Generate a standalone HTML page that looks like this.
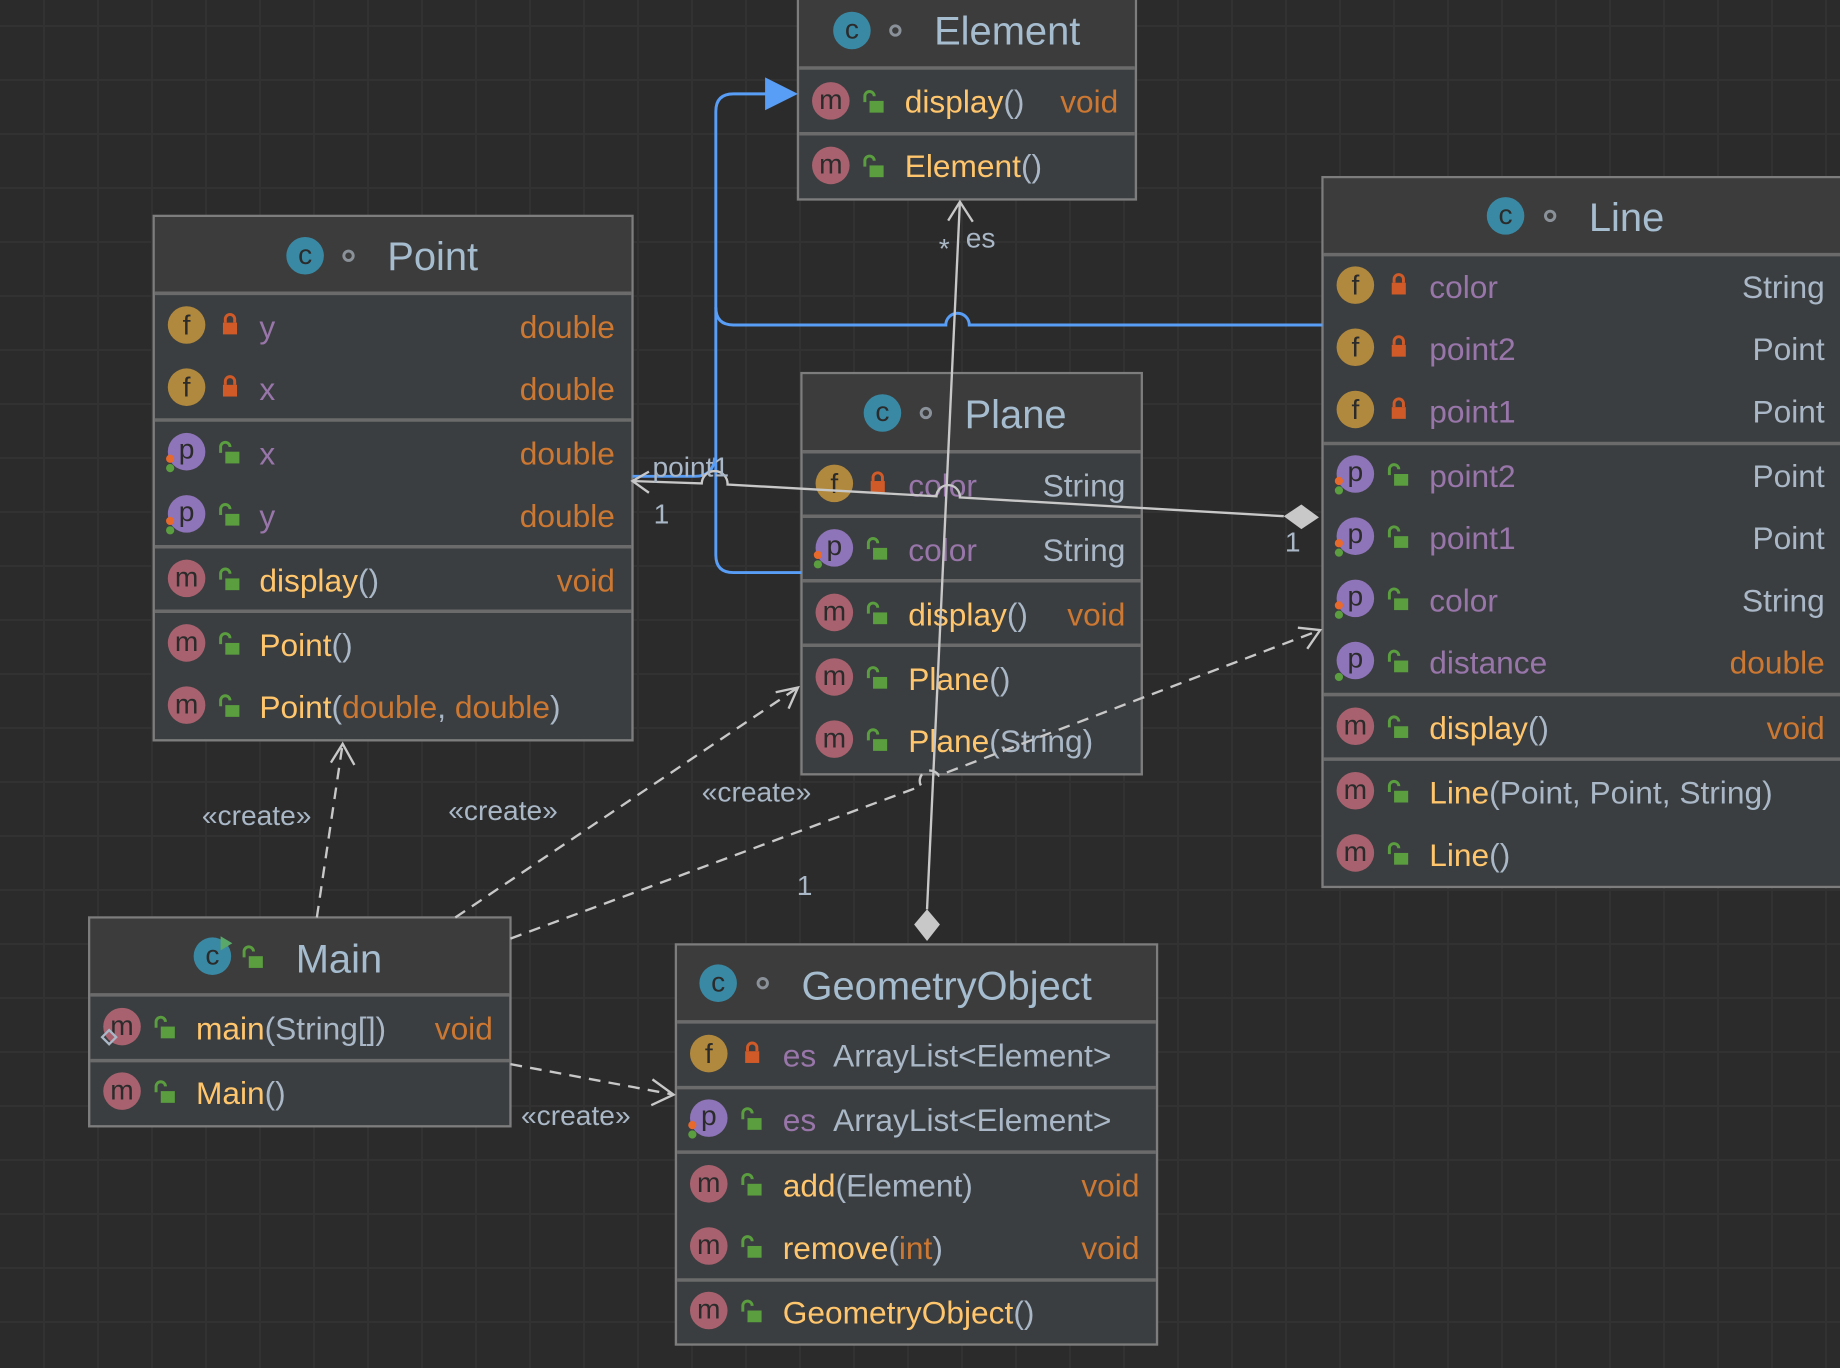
<!DOCTYPE html>
<html><head><meta charset="utf-8"><style>
html,body{margin:0;padding:0;background:#2b2b2b;}
#bg{position:absolute;left:0;top:0;width:1840px;height:1368px;background-color:#2b2b2b;
background-image:linear-gradient(to right,#323232 2px,transparent 2px),linear-gradient(to bottom,#323232 2px,transparent 2px);
background-size:54px 54px;background-position:43px 25px;}
svg{position:absolute;left:0;top:0;}
text{font-family:"Liberation Sans","DejaVu Sans",sans-serif;}
.t{font-size:34px;fill:#a6bccf;}
.r{font-size:27px;}
.ic{font-size:24px;fill:#2b2b2b;text-anchor:middle;}
.mn{fill:#ffc66d}.pa{fill:#a9b7c6}.ty{fill:#cc7832}.fn{fill:#9876aa}.gt{fill:#a9b7c6}
.lbl{font-size:24px;fill:#a9b7c6;}
</style></head><body>
<div id="bg"></div>
<svg width="1840" height="1368" viewBox="0 0 1568 1166" preserveAspectRatio="none">
<defs>
<g id="ul"><path d="M-5,-1 v-5 a4,4 0 0 1 8,0" stroke="#5a9e3f" fill="none" stroke-width="2.5"/><rect x="-1" y="-2" width="12" height="10" fill="#5a9e3f"/></g>
<g id="pl"><path d="M-4,-3 v-3 a4,4 0 0 1 8,0 v3" stroke="#d05a28" fill="none" stroke-width="2.5"/><rect x="-6" y="-3" width="12" height="10" fill="#d05a28"/></g>
<g id="cm"><circle r="16" fill="#a8626f"/><text y="7" class="ic">m</text></g>
<g id="cf"><circle r="16" fill="#b0893e"/><text y="8" class="ic">f</text></g>
<g id="cp"><circle r="16" fill="#8e74b8"/><text y="6" class="ic">p</text><circle cx="-14" cy="6" r="3.5" fill="#e8692c"/><circle cx="-14" cy="14" r="3.5" fill="#5a9e3f"/></g>
<g id="cc"><circle r="16" fill="#3a89a4"/><text y="7" class="ic">c</text></g>
</defs>

<!-- Element -->
<rect x="680" y="-2" width="288" height="172" fill="#3b3e40" stroke="#7d7d7d" stroke-width="2"/>
<rect x="681" y="-1" width="286" height="58" fill="#3c3c3c"/>
<line x1="681" y1="58" x2="967" y2="58" stroke="#6b6b6b" stroke-width="3"/>
<line x1="681" y1="114" x2="967" y2="114" stroke="#6b6b6b" stroke-width="3"/>
<use href="#cc" x="726" y="26"/><circle cx="763" cy="26" r="4" fill="none" stroke="#8a9199" stroke-width="2.5"/>
<text x="796" y="38" class="t">Element</text>
<use href="#cm" x="708" y="86"/><use href="#ul" x="742" y="88"/>
<text x="771" y="96" class="r"><tspan class="mn">display</tspan><tspan class="pa">()</tspan></text><text x="953" y="96" class="r ty" text-anchor="end">void</text>
<use href="#cm" x="708" y="141"/><use href="#ul" x="742" y="143"/>
<text x="771" y="151" class="r"><tspan class="mn">Element</tspan><tspan class="pa">()</tspan></text>

<!-- Point -->
<rect x="131" y="184" width="408" height="447" fill="#3b3e40" stroke="#7d7d7d" stroke-width="2"/>
<rect x="132" y="185" width="406" height="64" fill="#3c3c3c"/>
<line x1="132" y1="250" x2="538" y2="250" stroke="#6b6b6b" stroke-width="3"/>
<line x1="132" y1="358" x2="538" y2="358" stroke="#6b6b6b" stroke-width="3"/>
<line x1="132" y1="466" x2="538" y2="466" stroke="#6b6b6b" stroke-width="3"/>
<line x1="132" y1="521" x2="538" y2="521" stroke="#6b6b6b" stroke-width="3"/>
<use href="#cc" x="260" y="218"/><circle cx="297" cy="218" r="4" fill="none" stroke="#8a9199" stroke-width="2.5"/>
<text x="330" y="230" class="t">Point</text>
<use href="#cf" x="159" y="277"/><use href="#pl" x="196" y="278"/><text x="221" y="288" class="r fn">y</text><text x="524" y="288" class="r ty" text-anchor="end">double</text>
<use href="#cf" x="159" y="330"/><use href="#pl" x="196" y="331"/><text x="221" y="341" class="r fn">x</text><text x="524" y="341" class="r ty" text-anchor="end">double</text>
<use href="#cp" x="159" y="385"/><use href="#ul" x="193" y="387"/><text x="221" y="396" class="r fn">x</text><text x="524" y="396" class="r ty" text-anchor="end">double</text>
<use href="#cp" x="159" y="438"/><use href="#ul" x="193" y="440"/><text x="221" y="449" class="r fn">y</text><text x="524" y="449" class="r ty" text-anchor="end">double</text>
<use href="#cm" x="159" y="493"/><use href="#ul" x="193" y="495"/><text x="221" y="504" class="r"><tspan class="mn">display</tspan><tspan class="pa">()</tspan></text><text x="524" y="504" class="r ty" text-anchor="end">void</text>
<use href="#cm" x="159" y="548"/><use href="#ul" x="193" y="550"/><text x="221" y="559" class="r"><tspan class="mn">Point</tspan><tspan class="pa">()</tspan></text>
<use href="#cm" x="159" y="601"/><use href="#ul" x="193" y="603"/><text x="221" y="612" class="r"><tspan class="mn">Point</tspan><tspan class="pa">(</tspan><tspan class="ty">double</tspan><tspan class="pa">, </tspan><tspan class="ty">double</tspan><tspan class="pa">)</tspan></text>

<!-- Plane -->
<rect x="683" y="318" width="290" height="342" fill="#3b3e40" stroke="#7d7d7d" stroke-width="2"/>
<rect x="684" y="319" width="288" height="65" fill="#3c3c3c"/>
<line x1="684" y1="385" x2="972" y2="385" stroke="#6b6b6b" stroke-width="3"/>
<line x1="684" y1="440" x2="972" y2="440" stroke="#6b6b6b" stroke-width="3"/>
<line x1="684" y1="495" x2="972" y2="495" stroke="#6b6b6b" stroke-width="3"/>
<line x1="684" y1="550" x2="972" y2="550" stroke="#6b6b6b" stroke-width="3"/>
<use href="#cc" x="752" y="352"/><circle cx="789" cy="352" r="4" fill="none" stroke="#8a9199" stroke-width="2.5"/>
<text x="822" y="365" class="t">Plane</text>
<use href="#cf" x="711" y="412"/><use href="#pl" x="748" y="413"/><text x="774" y="423" class="r fn">color</text><text x="959" y="423" class="r gt" text-anchor="end">String</text>
<use href="#cp" x="711" y="467"/><use href="#ul" x="745" y="469"/><text x="774" y="478" class="r fn">color</text><text x="959" y="478" class="r gt" text-anchor="end">String</text>
<use href="#cm" x="711" y="522"/><use href="#ul" x="745" y="524"/><text x="774" y="533" class="r"><tspan class="mn">display</tspan><tspan class="pa">()</tspan></text><text x="959" y="533" class="r ty" text-anchor="end">void</text>
<use href="#cm" x="711" y="577"/><use href="#ul" x="745" y="579"/><text x="774" y="588" class="r"><tspan class="mn">Plane</tspan><tspan class="pa">()</tspan></text>
<use href="#cm" x="711" y="630"/><use href="#ul" x="745" y="632"/><text x="774" y="641" class="r"><tspan class="mn">Plane</tspan><tspan class="pa">(</tspan><tspan class="gt">String</tspan><tspan class="pa">)</tspan></text>

<!-- Line -->
<rect x="1127" y="151" width="445" height="605" fill="#3b3e40" stroke="#7d7d7d" stroke-width="2"/>
<rect x="1128" y="152" width="443" height="64" fill="#3c3c3c"/>
<line x1="1128" y1="217" x2="1570" y2="217" stroke="#6b6b6b" stroke-width="3"/>
<line x1="1128" y1="378" x2="1570" y2="378" stroke="#6b6b6b" stroke-width="3"/>
<line x1="1128" y1="592" x2="1570" y2="592" stroke="#6b6b6b" stroke-width="3"/>
<line x1="1128" y1="647" x2="1570" y2="647" stroke="#6b6b6b" stroke-width="3"/>
<use href="#cc" x="1283" y="184"/><circle cx="1321" cy="184" r="4" fill="none" stroke="#8a9199" stroke-width="2.5"/>
<text x="1354" y="197" class="t">Line</text>
<use href="#cf" x="1155" y="243"/><use href="#pl" x="1192" y="244"/><text x="1218" y="254" class="r fn">color</text><text x="1555" y="254" class="r gt" text-anchor="end">String</text>
<use href="#cf" x="1155" y="296"/><use href="#pl" x="1192" y="297"/><text x="1218" y="307" class="r fn">point2</text><text x="1555" y="307" class="r gt" text-anchor="end">Point</text>
<use href="#cf" x="1155" y="349"/><use href="#pl" x="1192" y="350"/><text x="1218" y="360" class="r fn">point1</text><text x="1555" y="360" class="r gt" text-anchor="end">Point</text>
<use href="#cp" x="1155" y="404"/><use href="#ul" x="1189" y="406"/><text x="1218" y="415" class="r fn">point2</text><text x="1555" y="415" class="r gt" text-anchor="end">Point</text>
<use href="#cp" x="1155" y="457"/><use href="#ul" x="1189" y="459"/><text x="1218" y="468" class="r fn">point1</text><text x="1555" y="468" class="r gt" text-anchor="end">Point</text>
<use href="#cp" x="1155" y="510"/><use href="#ul" x="1189" y="512"/><text x="1218" y="521" class="r fn">color</text><text x="1555" y="521" class="r gt" text-anchor="end">String</text>
<circle cx="1155" cy="563" r="16" fill="#8e74b8"/><text x="1155" y="569" class="ic">p</text><circle cx="1141" cy="577" r="3.5" fill="#5a9e3f"/><use href="#ul" x="1189" y="565"/><text x="1218" y="574" class="r fn">distance</text><text x="1555" y="574" class="r ty" text-anchor="end">double</text>
<use href="#cm" x="1155" y="619"/><use href="#ul" x="1189" y="621"/><text x="1218" y="630" class="r"><tspan class="mn">display</tspan><tspan class="pa">()</tspan></text><text x="1555" y="630" class="r ty" text-anchor="end">void</text>
<use href="#cm" x="1155" y="674"/><use href="#ul" x="1189" y="676"/><text x="1218" y="685" class="r"><tspan class="mn">Line</tspan><tspan class="pa">(Point, Point, String)</tspan></text>
<use href="#cm" x="1155" y="727"/><use href="#ul" x="1189" y="729"/><text x="1218" y="738" class="r"><tspan class="mn">Line</tspan><tspan class="pa">()</tspan></text>

<!-- Main -->
<rect x="76" y="782" width="359" height="178" fill="#3b3e40" stroke="#7d7d7d" stroke-width="2"/>
<rect x="77" y="783" width="357" height="64" fill="#3c3c3c"/>
<line x1="77" y1="848" x2="434" y2="848" stroke="#6b6b6b" stroke-width="3"/>
<line x1="77" y1="904" x2="434" y2="904" stroke="#6b6b6b" stroke-width="3"/>
<use href="#cc" x="181" y="815"/><path d="M188,798 l10,6 l-10,6z" fill="#59a869"/><use href="#ul" x="213" y="817"/>
<text x="252" y="829" class="t">Main</text>
<use href="#cm" x="104" y="875"/><path d="M93,878 l6,6 l-6,6 l-6,-6z" fill="none" stroke="#a9b7c6" stroke-width="2"/><use href="#ul" x="138" y="877"/><text x="167" y="886" class="r"><tspan class="mn">main</tspan><tspan class="pa">(String[])</tspan></text><text x="420" y="886" class="r ty" text-anchor="end">void</text>
<use href="#cm" x="104" y="930"/><use href="#ul" x="138" y="932"/><text x="167" y="941" class="r"><tspan class="mn">Main</tspan><tspan class="pa">()</tspan></text>

<!-- GeometryObject -->
<rect x="576" y="805" width="410" height="341" fill="#3b3e40" stroke="#7d7d7d" stroke-width="2"/>
<rect x="577" y="806" width="408" height="64" fill="#3c3c3c"/>
<line x1="577" y1="871" x2="985" y2="871" stroke="#6b6b6b" stroke-width="3"/>
<line x1="577" y1="927" x2="985" y2="927" stroke="#6b6b6b" stroke-width="3"/>
<line x1="577" y1="982" x2="985" y2="982" stroke="#6b6b6b" stroke-width="3"/>
<line x1="577" y1="1091" x2="985" y2="1091" stroke="#6b6b6b" stroke-width="3"/>
<use href="#cc" x="612" y="838"/><circle cx="650" cy="838" r="4" fill="none" stroke="#8a9199" stroke-width="2.5"/>
<text x="683" y="852" class="t">GeometryObject</text>
<use href="#cf" x="604" y="898"/><use href="#pl" x="641" y="899"/><text x="667" y="909" class="r"><tspan class="fn">es</tspan></text><text x="710" y="909" class="r gt">ArrayList&lt;Element&gt;</text>
<use href="#cp" x="604" y="953"/><use href="#ul" x="638" y="955"/><text x="667" y="964" class="r"><tspan class="fn">es</tspan></text><text x="710" y="964" class="r gt">ArrayList&lt;Element&gt;</text>
<use href="#cm" x="604" y="1009"/><use href="#ul" x="638" y="1011"/><text x="667" y="1020" class="r"><tspan class="mn">add</tspan><tspan class="pa">(Element)</tspan></text><text x="971" y="1020" class="r ty" text-anchor="end">void</text>
<use href="#cm" x="604" y="1062"/><use href="#ul" x="638" y="1064"/><text x="667" y="1073" class="r"><tspan class="mn">remove</tspan><tspan class="pa">(</tspan><tspan class="ty">int</tspan><tspan class="pa">)</tspan></text><text x="971" y="1073" class="r ty" text-anchor="end">void</text>
<use href="#cm" x="604" y="1117"/><use href="#ul" x="638" y="1119"/><text x="667" y="1128" class="r"><tspan class="mn">GeometryObject</tspan><tspan class="pa">()</tspan></text>

<!-- blue generalization lines -->
<g stroke="#589df6" stroke-width="2.5" fill="none">
<path d="M683,488 H625 Q610,488 610,473 V95 Q610,80 625,80 H655"/>
<path d="M539,406 H592 Q608,406 609,390"/>
<path d="M1127,277 H826 A10,10 0 0 0 806,277 H625 Q610,277 610,262"/>
</g>
<path d="M652,66 L680,80 L652,94 Z" fill="#589df6"/>

<!-- grey associations -->
<g stroke="#c8c8c8" stroke-width="2" fill="none">
<path d="M539,410 L598,412 A11,11 0 0 1 620,413 L798,423 A10,10 0 0 1 818,424 L1094,440"/>
<path d="M553,402 L539,410 L553,420"/>
<path d="M790,775 L818,172"/>
<path d="M808,188 L818,172 L829,189"/>
</g>
<path d="M1094,440 L1109,430 L1124,441 L1109,451 Z" fill="#c8c8c8"/>
<path d="M790,775 L801,788 L790,802 L779,788 Z" fill="#c8c8c8"/>

<!-- dashed create -->
<g stroke="#c8c8c8" stroke-width="2" fill="none" stroke-dasharray="10,7">
<path d="M270,782 L292,634"/>
<path d="M388,782 L680,586"/>
<path d="M435,800 L785,670 A8,8 0 0 1 800,661 L1125,537"/>
<path d="M435,907 L574,933"/>
</g>
<g stroke="#c8c8c8" stroke-width="2" fill="none">
<path d="M282,650 L292,634 L302,652"/>
<path d="M661,590 L680,586 L672,604"/>
<path d="M1106,535 L1125,537 L1114,553"/>
<path d="M556,920 L574,933 L555,942"/>
</g>

<text x="556" y="406" class="lbl">point1</text>
<text x="557" y="446" class="lbl">1</text>
<text x="1095" y="470" class="lbl">1</text>
<text x="823" y="211" class="lbl">es</text>
<text x="800" y="220" class="lbl">*</text>
<text x="679" y="763" class="lbl">1</text>
<text x="172" y="703" class="lbl">«create»</text>
<text x="382" y="699" class="lbl">«create»</text>
<text x="598" y="683" class="lbl">«create»</text>
<text x="444" y="959" class="lbl">«create»</text>
</svg>
</body></html>
